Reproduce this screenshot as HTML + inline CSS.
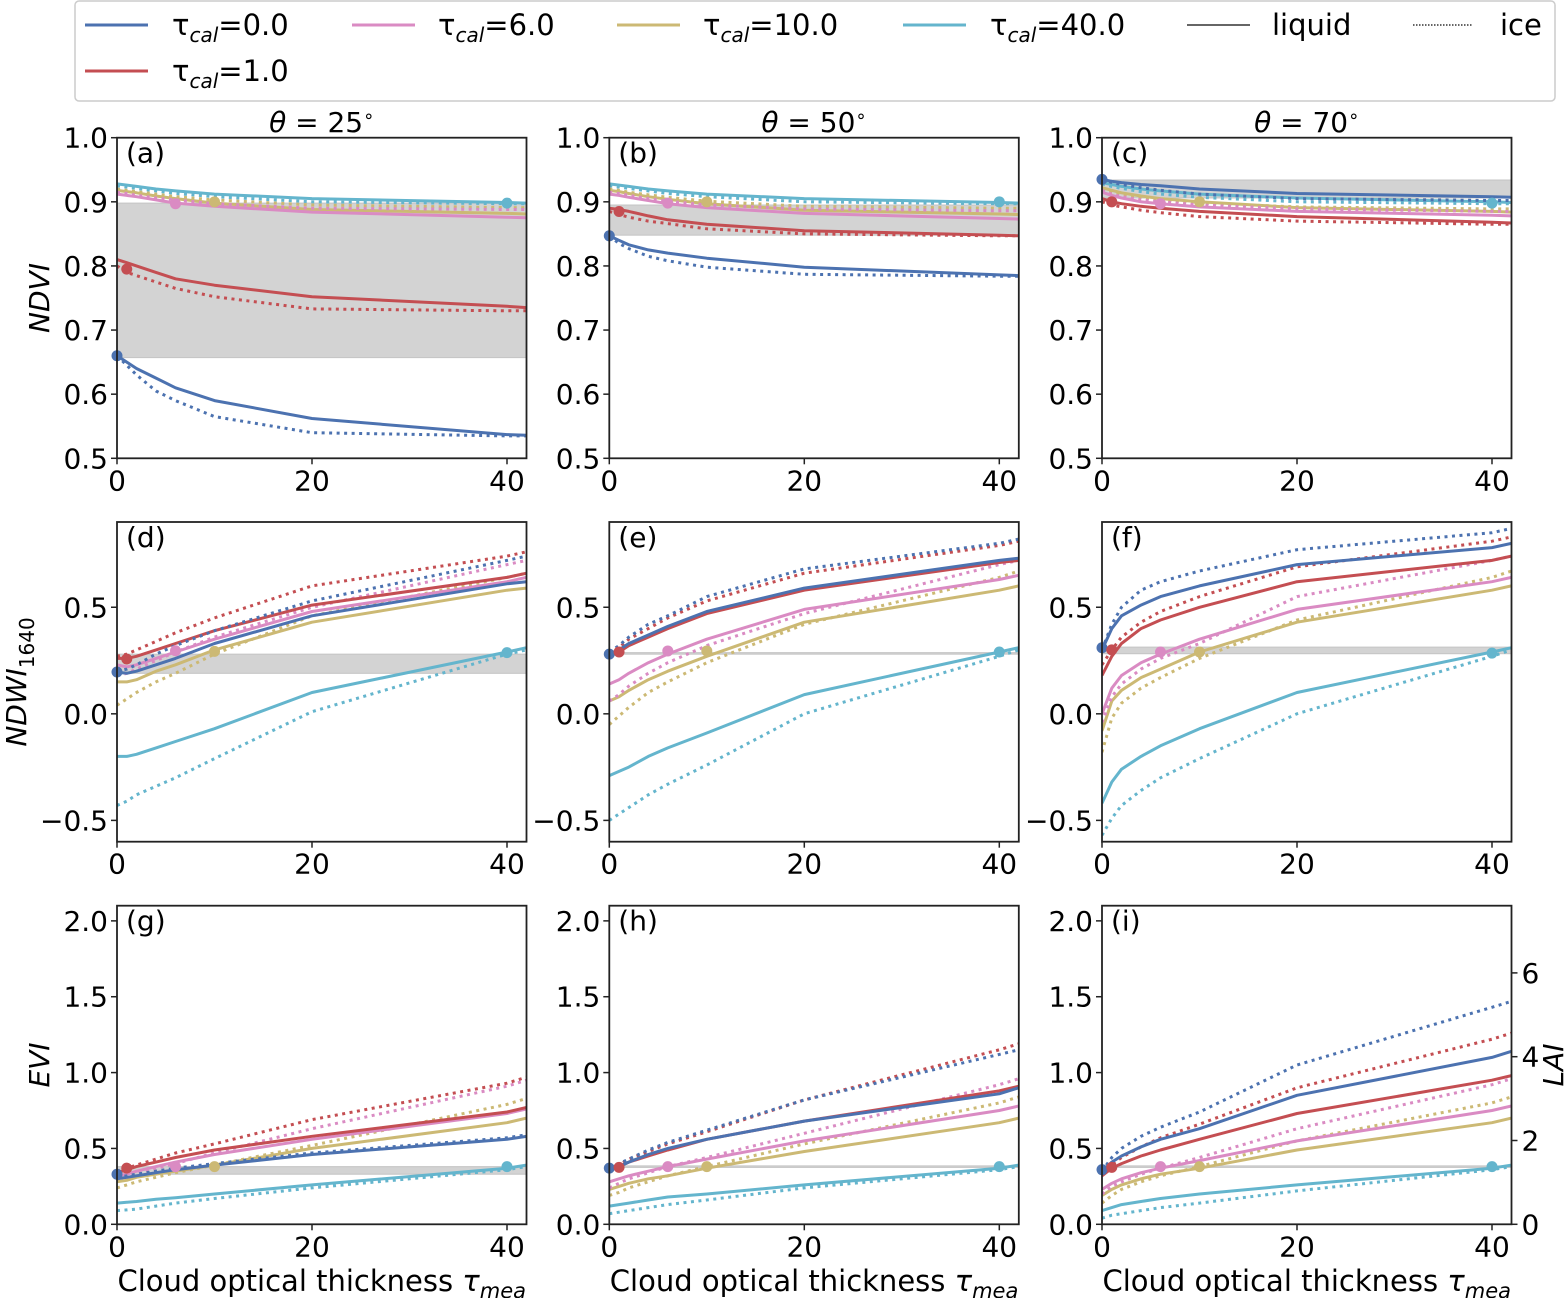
<!DOCTYPE html>
<html><head><meta charset="utf-8"><style>
body{margin:0;background:#fff}
svg{display:block;font-family:"DejaVu Sans","Liberation Sans",sans-serif}
</style></head><body>
<svg id="fig" width="1565" height="1298" viewBox="0 0 1565 1298" xmlns="http://www.w3.org/2000/svg">
<g>
<rect x="75" y="1" width="1480" height="100" rx="4" fill="#fff" stroke="#ccc" stroke-width="1.5"/>
<g><line x1="85" y1="25" x2="148" y2="25" stroke="#4C72B0" stroke-width="3"/><text x="172" y="35" font-size="29">τ<tspan font-size="20" font-style="italic" dy="7">cal</tspan><tspan dy="-7">=0.0</tspan></text></g>
<g><line x1="85" y1="71" x2="148" y2="71" stroke="#C44E52" stroke-width="3"/><text x="172" y="81" font-size="29">τ<tspan font-size="20" font-style="italic" dy="7">cal</tspan><tspan dy="-7">=1.0</tspan></text></g>
<g><line x1="352" y1="25" x2="415" y2="25" stroke="#DA8BC3" stroke-width="3"/><text x="438" y="35" font-size="29">τ<tspan font-size="20" font-style="italic" dy="7">cal</tspan><tspan dy="-7">=6.0</tspan></text></g>
<g><line x1="617" y1="25" x2="680" y2="25" stroke="#CCB974" stroke-width="3"/><text x="703" y="35" font-size="29">τ<tspan font-size="20" font-style="italic" dy="7">cal</tspan><tspan dy="-7">=10.0</tspan></text></g>
<g><line x1="903" y1="25" x2="966" y2="25" stroke="#64B5CD" stroke-width="3"/><text x="990" y="35" font-size="29">τ<tspan font-size="20" font-style="italic" dy="7">cal</tspan><tspan dy="-7">=40.0</tspan></text></g>
<g><line x1="1187" y1="25" x2="1250" y2="25" stroke="#333" stroke-width="1.5"/><text x="1272" y="35" font-size="29">liquid</text></g>
<g><line x1="1413" y1="25" x2="1473" y2="25" stroke="#333" stroke-width="1.5" stroke-dasharray="1.5,1.5"/><text x="1500" y="35" font-size="29">ice</text></g>
</g>
</svg>
<script>
const xs=[0,1,2,4,6,10,20,40,42];
const seriesColors=["#4C72B0","#C44E52","#DA8BC3","#CCB974","#64B5CD"];
const calTau=[0,1,6,10,40];
const colTitles=["25","50","70"];
const panelLabels=["(a)","(b)","(c)","(d)","(e)","(f)","(g)","(h)","(i)"];
const rowYLabels=["NDVI","NDWI","EVI"];
const yTicksNDVI=[0.5,0.6,0.7,0.8,0.9,1.0];
const yTicksNDWI=[-0.5,0.0,0.5];
const yTicksEVI=[0.0,0.5,1.0,1.5,2.0];
const xTicks=[0,20,40];
const laiTicks=[0,2,4,6];
const liqA=[[0.66,0.65,0.64,0.625,0.61,0.59,0.562,0.537,0.536],[0.81,0.805,0.8,0.79,0.78,0.77,0.752,0.737,0.735],[0.912,0.91,0.908,0.903,0.898,0.893,0.884,0.876,0.875],[0.918,0.916,0.914,0.909,0.905,0.898,0.888,0.882,0.881],[0.928,0.926,0.924,0.92,0.917,0.912,0.905,0.899,0.898]];
const iceA=[[0.66,0.645,0.63,0.605,0.59,0.565,0.54,0.535,0.535],[0.8,0.79,0.785,0.775,0.765,0.752,0.733,0.73,0.73],[0.915,0.913,0.91,0.906,0.903,0.897,0.89,0.888,0.888],[0.92,0.918,0.916,0.912,0.908,0.903,0.895,0.891,0.891],[0.925,0.923,0.921,0.917,0.913,0.908,0.9,0.897,0.897]];
const liqB=[[0.847,0.84,0.833,0.825,0.82,0.812,0.798,0.786,0.785],[0.89,0.888,0.885,0.878,0.872,0.865,0.855,0.848,0.847],[0.912,0.91,0.907,0.902,0.897,0.891,0.882,0.874,0.873],[0.918,0.916,0.913,0.908,0.904,0.897,0.887,0.881,0.88],[0.928,0.926,0.924,0.92,0.917,0.912,0.905,0.899,0.898]];
const iceB=[[0.847,0.835,0.827,0.815,0.808,0.798,0.787,0.784,0.784],[0.885,0.88,0.876,0.87,0.866,0.858,0.85,0.847,0.847],[0.915,0.913,0.91,0.905,0.901,0.895,0.889,0.886,0.886],[0.92,0.918,0.915,0.911,0.907,0.901,0.893,0.89,0.89],[0.925,0.923,0.921,0.917,0.913,0.908,0.9,0.897,0.897]];
const liqC=[[0.935,0.932,0.93,0.927,0.925,0.92,0.913,0.908,0.907],[0.905,0.9,0.897,0.893,0.89,0.885,0.877,0.868,0.867],[0.915,0.91,0.906,0.9,0.897,0.892,0.885,0.879,0.878],[0.922,0.918,0.914,0.909,0.905,0.9,0.891,0.885,0.884],[0.93,0.927,0.924,0.92,0.917,0.912,0.906,0.9,0.899]];
const iceC=[[0.935,0.93,0.927,0.922,0.918,0.912,0.905,0.902,0.902],[0.9,0.895,0.892,0.887,0.883,0.877,0.87,0.865,0.865],[0.918,0.912,0.908,0.903,0.9,0.895,0.889,0.885,0.885],[0.92,0.916,0.912,0.907,0.903,0.898,0.892,0.889,0.889],[0.928,0.924,0.921,0.916,0.912,0.907,0.9,0.897,0.897]];
const liqD=[[0.195,0.19,0.2,0.23,0.26,0.33,0.46,0.61,0.62],[0.26,0.26,0.27,0.3,0.33,0.39,0.51,0.64,0.66],[0.23,0.22,0.23,0.26,0.29,0.35,0.48,0.62,0.64],[0.15,0.15,0.16,0.2,0.23,0.3,0.43,0.58,0.59],[-0.2,-0.2,-0.19,-0.16,-0.13,-0.07,0.1,0.29,0.31]];
const iceD=[[0.2,0.21,0.23,0.28,0.32,0.39,0.53,0.72,0.74],[0.27,0.28,0.3,0.34,0.38,0.45,0.6,0.74,0.76],[0.18,0.19,0.21,0.25,0.29,0.36,0.5,0.7,0.72],[0.04,0.07,0.1,0.15,0.19,0.28,0.46,0.64,0.66],[-0.43,-0.41,-0.38,-0.34,-0.3,-0.21,0.01,0.28,0.3]];
const liqE=[[0.28,0.3,0.33,0.37,0.41,0.48,0.59,0.72,0.73],[0.27,0.29,0.32,0.36,0.4,0.47,0.58,0.71,0.72],[0.14,0.16,0.19,0.24,0.28,0.35,0.49,0.63,0.65],[0.06,0.08,0.11,0.16,0.2,0.27,0.43,0.58,0.6],[-0.29,-0.27,-0.25,-0.2,-0.16,-0.09,0.09,0.29,0.31]];
const iceE=[[0.29,0.32,0.36,0.42,0.46,0.55,0.68,0.8,0.82],[0.28,0.31,0.35,0.4,0.45,0.53,0.66,0.79,0.81],[0.06,0.09,0.13,0.19,0.24,0.32,0.47,0.7,0.72],[-0.05,-0.01,0.03,0.1,0.15,0.24,0.42,0.64,0.67],[-0.5,-0.47,-0.44,-0.38,-0.33,-0.24,0.0,0.27,0.3]];
const liqF=[[0.3,0.4,0.46,0.51,0.55,0.6,0.7,0.78,0.8],[0.18,0.27,0.33,0.4,0.44,0.5,0.62,0.72,0.74],[0.0,0.12,0.18,0.24,0.28,0.35,0.49,0.62,0.64],[-0.08,0.06,0.11,0.17,0.21,0.29,0.43,0.58,0.6],[-0.42,-0.32,-0.26,-0.2,-0.15,-0.07,0.1,0.29,0.31]];
const iceF=[[0.3,0.42,0.5,0.58,0.62,0.67,0.77,0.85,0.87],[0.23,0.3,0.36,0.43,0.48,0.55,0.69,0.81,0.83],[-0.04,0.08,0.14,0.21,0.26,0.33,0.55,0.72,0.74],[-0.18,-0.02,0.05,0.12,0.17,0.26,0.44,0.64,0.67],[-0.57,-0.49,-0.43,-0.36,-0.3,-0.21,0.0,0.27,0.3]];
const liqG=[[0.3,0.31,0.32,0.34,0.36,0.39,0.46,0.56,0.58],[0.34,0.36,0.38,0.41,0.44,0.49,0.58,0.74,0.77],[0.32,0.33,0.35,0.38,0.41,0.46,0.56,0.73,0.76],[0.28,0.29,0.31,0.33,0.35,0.39,0.5,0.67,0.7],[0.14,0.145,0.15,0.165,0.175,0.2,0.26,0.37,0.39]];
const iceG=[[0.31,0.32,0.33,0.35,0.37,0.4,0.47,0.57,0.59],[0.35,0.37,0.39,0.43,0.47,0.53,0.69,0.93,0.97],[0.3,0.31,0.33,0.37,0.4,0.47,0.63,0.91,0.95],[0.24,0.26,0.28,0.31,0.34,0.39,0.52,0.79,0.83],[0.09,0.095,0.1,0.12,0.14,0.17,0.24,0.36,0.38]];
const liqH=[[0.37,0.38,0.41,0.46,0.5,0.56,0.68,0.86,0.9],[0.36,0.38,0.41,0.45,0.49,0.56,0.68,0.88,0.91],[0.28,0.3,0.32,0.35,0.38,0.43,0.55,0.75,0.78],[0.23,0.25,0.27,0.3,0.32,0.37,0.48,0.67,0.7],[0.12,0.13,0.14,0.16,0.18,0.2,0.26,0.37,0.39]];
const iceH=[[0.38,0.4,0.43,0.49,0.54,0.62,0.82,1.12,1.15],[0.37,0.39,0.43,0.48,0.53,0.61,0.82,1.15,1.19],[0.24,0.27,0.3,0.34,0.38,0.44,0.6,0.92,0.96],[0.19,0.21,0.24,0.28,0.32,0.38,0.53,0.8,0.84],[0.07,0.08,0.09,0.11,0.13,0.16,0.24,0.36,0.38]];
const liqI=[[0.35,0.41,0.45,0.51,0.56,0.63,0.85,1.1,1.14],[0.32,0.37,0.4,0.45,0.49,0.56,0.73,0.95,0.98],[0.23,0.27,0.3,0.34,0.37,0.42,0.55,0.75,0.78],[0.19,0.23,0.26,0.3,0.33,0.37,0.49,0.67,0.7],[0.09,0.11,0.13,0.15,0.17,0.2,0.26,0.37,0.39]];
const iceI=[[0.35,0.44,0.5,0.58,0.64,0.74,1.05,1.43,1.47],[0.33,0.39,0.44,0.51,0.57,0.66,0.9,1.22,1.26],[0.2,0.25,0.28,0.33,0.37,0.44,0.63,0.92,0.96],[0.14,0.19,0.23,0.28,0.32,0.38,0.55,0.8,0.84],[0.04,0.06,0.07,0.09,0.11,0.14,0.22,0.36,0.38]];
const markersA=[0.66,0.795,0.897,0.9,0.898], markersB=[0.847,0.885,0.898,0.9,0.9], markersC=[0.935,0.9,0.897,0.9,0.898];
const markersD=[0.196,0.257,0.296,0.293,0.287], markersE=[0.28,0.29,0.295,0.295,0.29], markersF=[0.31,0.3,0.29,0.29,0.285];
const markersG=[0.33,0.37,0.38,0.38,0.38], markersH=[0.37,0.375,0.38,0.38,0.38], markersI=[0.36,0.375,0.38,0.38,0.38];
const shadeA=[0.657,0.898], shadeB=[0.848,0.895], shadeC=[0.906,0.934], shadeD=[0.19,0.28], shadeE=[0.28,0.287], shadeF=[0.282,0.313], shadeG=[0.33,0.38], shadeH=[0.375,0.385], shadeI=[0.375,0.385];

const NS="http://www.w3.org/2000/svg";
const svg=document.getElementById('fig');
function mk(tag,attrs,parent){const e=document.createElementNS(NS,tag);for(const k in attrs)e.setAttribute(k,attrs[k]);(parent||svg).appendChild(e);return e;}
const colL=[117,609.3,1102], W=409.5;
const FS=28;
const rows=[{top:137.7,bot:458.3,min:0.5,max:1.0,ticks:yTicksNDVI,fmt:v=>v.toFixed(1)},
{top:522,bot:841.7,min:-0.6,max:0.9,ticks:yTicksNDWI,fmt:v=>(v<0?"\u2212":"")+Math.abs(v).toFixed(1)},
{top:905.7,bot:1224.3,min:0,max:2.1,ticks:yTicksEVI,fmt:v=>v.toFixed(1)}];
const liq=[liqA,liqB,liqC,liqD,liqE,liqF,liqG,liqH,liqI];
const ice=[iceA,iceB,iceC,iceD,iceE,iceF,iceG,iceH,iceI];
const mks=[markersA,markersB,markersC,markersD,markersE,markersF,markersG,markersH,markersI];
const shades=[shadeA,shadeB,shadeC,shadeD,shadeE,shadeF,shadeG,shadeH,shadeI];
for(let r=0;r<3;r++)for(let c=0;c<3;c++){
 const i=r*3+c,R=rows[r],L=colL[c];
 const sx=v=>L+v/42*W, sy=v=>R.bot-(v-R.min)/(R.max-R.min)*(R.bot-R.top);
 const g=mk('g',{});
 
 
 const clipId='clip'+i;
 const cp=mk('clipPath',{id:clipId},g);mk('rect',{x:L,y:R.top,width:W,height:R.bot-R.top},cp);
 const sh=mk('rect',{x:L,y:sy(shades[i][1]),width:W,height:Math.max(1.5,sy(shades[i][0])-sy(shades[i][1])),fill:'#d3d3d3',stroke:'#c4c4c4','stroke-width':1},g);
 
 
 const pg=mk('g',{'clip-path':'url(#'+clipId+')'},g);
 for(let s=4;s>=0;s--){
  for(const [arr,dash,nm] of [[ice[i][s],'3,4.5','ice'],[liq[i][s],'','liquid']]){
   const d=arr.map((v,k)=>(k?'L':'M')+sx(xs[k]).toFixed(1)+','+sy(v).toFixed(1)).join('');
   const p=mk('path',{d:d,fill:'none',stroke:seriesColors[s],'stroke-width':3,'stroke-dasharray':dash||'none','stroke-linejoin':'round'},pg);
   
   
  }
 }
 for(let s=0;s<5;s++){
  const m=mk('circle',{cx:sx(calTau[s]),cy:sy(mks[i][s]),r:5.5,fill:seriesColors[s]},g);
  
  
 }
 const fr=mk('rect',{x:L,y:R.top,width:W,height:R.bot-R.top,fill:'none',stroke:'#222','stroke-width':1.8},g);
 
 
 for(const t of xTicks){mk('line',{x1:sx(t),x2:sx(t),y1:R.bot,y2:R.bot+6,stroke:'#222','stroke-width':1.5},g);
  const tx=mk('text',{x:sx(t),y:R.bot+32,'font-size':FS,'text-anchor':'middle'},g);tx.textContent=t;
  
  }
 for(const t of R.ticks){mk('line',{x1:L-6,x2:L,y1:sy(t),y2:sy(t),stroke:'#222','stroke-width':1.5},g);
  const ty=mk('text',{x:L-9,y:sy(t)+10,'font-size':FS,'text-anchor':'end'},g);ty.textContent=R.fmt(t);
  
  }
 const pl=mk('text',{x:L+9,y:R.top+25,'font-size':FS},g);pl.textContent=panelLabels[i];
 
 
 if(r===0){const t=mk('text',{x:L+W/2,y:132,'font-size':FS,'text-anchor':'middle'},g);
  t.innerHTML='<tspan font-style="italic">θ</tspan> = '+colTitles[c]+'<tspan font-size="18" dy="-10">∘</tspan>';
  
  }
 if(r===2){const t=mk('text',{x:L+W/2,y:1291,'font-size':29,'text-anchor':'middle'},g);
  t.innerHTML='Cloud optical thickness <tspan font-style="italic">τ</tspan><tspan font-size="21" font-style="italic" dy="7">mea</tspan>';
  
  }
 if(i===8){
  const sl=v=>R.bot-v*41.9;
  for(const t of laiTicks){mk('line',{x1:L+W,x2:L+W+6,y1:sl(t),y2:sl(t),stroke:'#222','stroke-width':1.5},g);
   const tl=mk('text',{x:L+W+10,y:sl(t)+10,'font-size':FS},g);tl.textContent=t;
   
   }
  const la=mk('text',{transform:'translate(1563,1065) rotate(-90)','font-size':28,'font-style':'italic','text-anchor':'middle'},g);la.textContent='LAI';
  
  
 }
}
const yl=[[49,298,'NDVI'],[26,682,null],[49,1065,'EVI']];
yl.forEach((a,r)=>{const t=mk('text',{transform:`translate(${a[0]},${a[1]}) rotate(-90)`,'font-size':28,'font-style':'italic','text-anchor':'middle'});
 if(a[2])t.textContent=a[2];else t.innerHTML='NDWI<tspan font-size="20" font-style="normal" dy="8">1640</tspan>';
 
 });
</script>
</body></html>
